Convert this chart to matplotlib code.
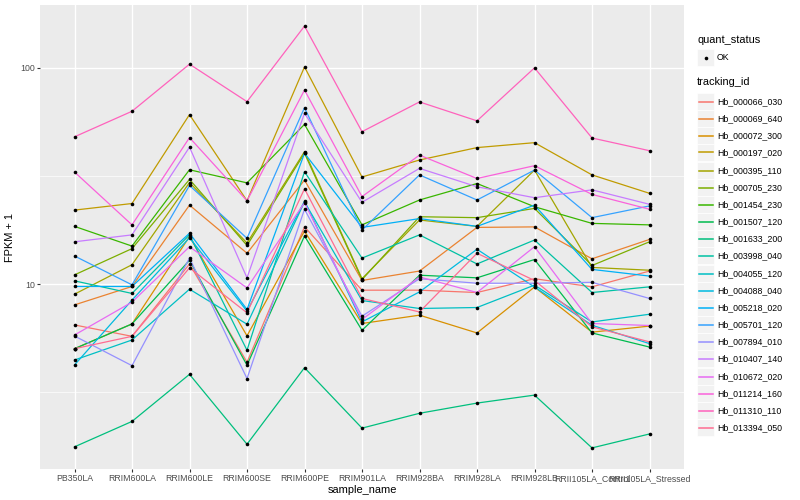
import numpy as np
import matplotlib.pyplot as plt
from matplotlib.patches import Rectangle
from matplotlib.lines import Line2D
from matplotlib.ticker import FixedLocator, NullFormatter

plt.rcParams['font.family'] = ['Liberation Sans', 'DejaVu Sans']

samples = ['PB350LA', 'RRIM600LA', 'RRIM600LE', 'RRIM600SE', 'RRIM600PE',
           'RRIM901LA', 'RRIM928BA', 'RRIM928LA', 'RRIM928LB',
           'RRII105LA_Control', 'RRII105LA_Stressed']

tracking_ids = ['Hb_000066_030', 'Hb_000069_640', 'Hb_000072_300', 'Hb_000197_020',
                'Hb_000395_110', 'Hb_000705_230', 'Hb_001454_230', 'Hb_001507_120',
                'Hb_001633_200', 'Hb_003998_040', 'Hb_004055_120', 'Hb_004088_040',
                'Hb_005218_020', 'Hb_005701_120', 'Hb_007894_010', 'Hb_010407_140',
                'Hb_010672_020', 'Hb_011214_160', 'Hb_011310_110', 'Hb_013394_050']

# ggplot hue palette, 20 levels
colours = ['#F8766D', '#EA8331', '#D89000', '#C09B00', '#A3A500', '#7CAE00',
           '#39B600', '#00BB4E', '#00BF7D', '#00C1A3', '#00BFC4', '#00BAE0',
           '#00B0F6', '#35A2FF', '#9590FF', '#C77CFF', '#E76BF3', '#FA62DB',
           '#FF62BC', '#FF6C91']

# FPKM + 1 per sample
hb_000066_030 = [6.48, 5.74, 12.4, 4.36, 18.4, 9.38, 9.38, 9.15, 10.6, 9.72, 11.5]
hb_000069_640 = [8.02, 9.76, 23.2, 13.9, 30.3, 10.4, 11.5, 18.3, 18.4, 13.1, 16.1]
hb_000072_300 = [5.03, 6.55, 16.6, 5.77, 17.6, 6.58, 7.19, 5.95, 9.7, 6.0, 6.4]
hb_000197_020 = [22.0, 23.6, 60.8, 24.3, 101.0, 31.3, 37.5, 42.8, 45.1, 32.0, 26.3]
hb_000395_110 = [8.99, 12.3, 29.5, 15.5, 41.0, 10.6, 19.8, 18.5, 33.7, 11.95, 11.6]
hb_000705_230 = [11.04, 14.6, 30.5, 15.1, 40.3, 10.5, 20.5, 20.3, 22.4, 12.2, 15.7]
hb_001454_230 = [18.5, 15.0, 33.8, 29.4, 54.8, 18.8, 24.5, 29.2, 22.8, 19.1, 18.8]
hb_001507_120 = [5.03, 6.55, 12.9, 4.22, 16.7, 6.12, 11.0, 10.7, 13.0, 5.95, 5.12]
hb_001633_200 = [1.77, 2.32, 3.83, 1.82, 4.11, 2.16, 2.53, 2.82, 3.07, 1.75, 2.03]
hb_003998_040 = [10.36, 9.06, 16.9, 4.95, 33.1, 13.2, 16.9, 12.4, 16.0, 9.15, 9.72]
hb_004055_120 = [4.46, 5.52, 9.48, 6.53, 24.0, 8.4, 7.72, 7.8, 9.9, 6.69, 7.26]
hb_004088_040 = [4.23, 8.44, 16.4, 7.50, 24.2, 6.69, 9.21, 14.5, 9.7, 6.46, 5.31]
hb_005218_020 = [9.76, 9.76, 17.2, 7.64, 40.3, 18.3, 20.1, 18.5, 23.2, 11.7, 10.9]
hb_005701_120 = [13.5, 9.93, 28.6, 16.3, 65.5, 17.8, 32.0, 24.5, 33.7, 20.3, 23.0]
hb_007894_010 = [5.76, 4.2, 13.2, 3.66, 22.2, 7.11, 10.6, 10.1, 10.1, 10.2, 8.59]
hb_010407_140 = [15.7, 16.9, 43.0, 10.7, 61.7, 23.9, 34.3, 28.2, 25.1, 27.3, 23.4]
hb_010672_020 = [5.82, 8.26, 14.9, 9.61, 23.8, 6.87, 10.8, 9.15, 14.9, 6.58, 6.44]
hb_011214_160 = [33.0, 18.8, 47.6, 24.3, 79.0, 25.4, 39.5, 30.8, 35.3, 26.0, 22.2]
hb_011310_110 = [48.0, 63.0, 104.0, 69.8, 156.0, 50.7, 69.6, 56.9, 100.0, 47.4, 41.4]
hb_013394_050 = [5.03, 5.74, 11.9, 7.37, 27.6, 8.59, 7.44, 13.9, 10.4, 6.35, 5.41]

series = [hb_000066_030, hb_000069_640, hb_000072_300, hb_000197_020,
          hb_000395_110, hb_000705_230, hb_001454_230, hb_001507_120,
          hb_001633_200, hb_003998_040, hb_004055_120, hb_004088_040,
          hb_005218_020, hb_005701_120, hb_007894_010, hb_010407_140,
          hb_010672_020, hb_011214_160, hb_011310_110, hb_013394_050]

W, H = 800, 500
fig = plt.figure(figsize=(8, 5), dpi=100)
# panel in pixels: x 40..684, y 5..469
ax = fig.add_axes([40 / W, 1 - 469 / H, 644 / W, 464 / H])
ax.set_facecolor('#EBEBEB')
for s in ax.spines.values():
    s.set_visible(False)

x = np.arange(len(samples))
for vals, col in zip(series, colours):
    ax.plot(x, vals, color=col, lw=0.9, zorder=2)
for vals in series:
    ax.plot(x, vals, 'o', color='black', ms=2.6, mew=0, zorder=3)

ax.set_yscale('log')
ax.margins(y=0.05)
ax.set_xlim(-0.6, len(samples) - 0.4)
ax.set_xticks(x)
ax.set_xticklabels(samples)
ax.yaxis.set_major_locator(FixedLocator([1, 10, 100, 1000]))
ax.yaxis.set_minor_locator(FixedLocator([10 ** 0.5, 10 ** 1.5, 10 ** 2.5]))
ax.yaxis.set_minor_formatter(NullFormatter())
ax.set_yticklabels(['1', '10', '100', '1000'])
ax.grid(True, which='major', color='white', lw=1.0, zorder=1)
ax.grid(True, which='minor', axis='y', color='white', lw=0.5, zorder=1)
ax.set_axisbelow(True)
ax.tick_params(which='major', length=2.0, width=0.8, color='#333333',
               labelsize=6.3, labelcolor='#4D4D4D', pad=1.6)
ax.tick_params(which='minor', length=0)
ax.set_xlabel('sample_name', fontsize=7.9, labelpad=1.5)
ax.set_ylabel('FPKM + 1', fontsize=7.9, labelpad=4)


def fx(px):
    return px / W


def fy(py):
    return 1 - py / H


# legend: quant_status
fig.text(fx(697), fy(40), 'quant_status', fontsize=7.9, va='center', ha='left')
fig.patches.append(Rectangle((fx(697), fy(66)), 17 / W, 17 / H, transform=fig.transFigure,
                             facecolor='#F2F2F2', edgecolor='white', lw=0.5))
fig.lines.append(Line2D([fx(705.5)], [fy(57.5)], marker='o', color='black', ms=2.6,
                        mew=0, transform=fig.transFigure))
fig.text(fx(717), fy(57.5), 'OK', fontsize=6.3, va='center', ha='left')

# legend: tracking_id
fig.text(fx(697), fy(82), 'tracking_id', fontsize=7.9, va='center', ha='left')
step = (427 - 101) / (len(tracking_ids) - 1)
for i, (tid, col) in enumerate(zip(tracking_ids, colours)):
    cy = round(101 + i * step) + 0.5
    fig.patches.append(Rectangle((fx(697), fy(cy + 8.5)), 17 / W, 17 / H,
                                 transform=fig.transFigure, facecolor='#F2F2F2',
                                 edgecolor='white', lw=0.5))
    fig.lines.append(Line2D([fx(698.5), fx(712.5)], [fy(cy), fy(cy)], color=col, lw=1.1,
                            transform=fig.transFigure))
    fig.text(fx(717), fy(cy), tid, fontsize=6.3, va='center', ha='left')

fig.savefig('out.png', dpi=100)
